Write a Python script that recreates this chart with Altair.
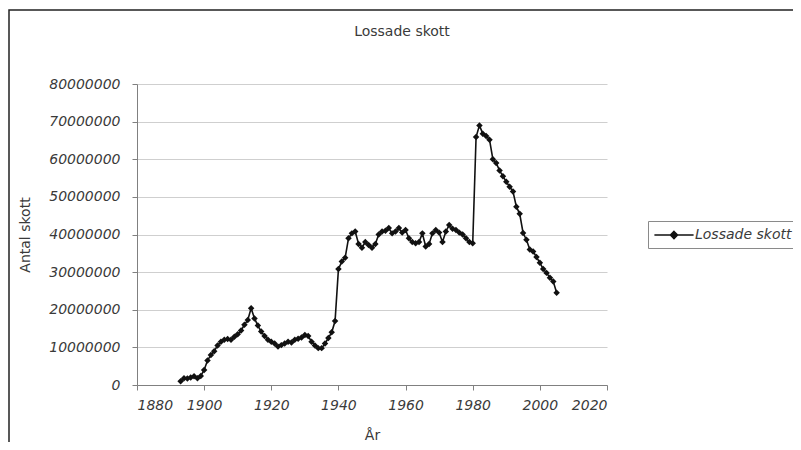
import altair as alt
import pandas as pd

# Years and shot counts
years = list(range(1893, 2006))
shots = [
    1000000, 1800000, 1700000, 2000000, 2300000, 1800000, 2400000, 4000000,
    6500000, 8000000, 9000000, 10500000, 11500000, 12000000, 12200000, 12000000,
    12800000, 13500000, 14500000, 16000000, 17300000, 20400000, 17700000, 15800000,
    14200000, 13000000, 12000000, 11500000, 11000000, 10200000, 10600000, 11000000,
    11500000, 11300000, 12000000, 12300000, 12600000, 13300000, 13000000, 11500000,
    10500000, 9800000, 9800000, 11000000, 12500000, 14000000, 17000000, 30800000,
    32800000, 33800000, 39000000, 40300000, 40800000, 37500000, 36500000, 38000000,
    37200000, 36500000, 37500000, 40000000, 40800000, 41000000, 41700000, 40300000,
    40800000, 41700000, 40500000, 41200000, 39000000, 38000000, 37700000, 38000000,
    40300000, 36800000, 37500000, 40300000, 41200000, 40500000, 38000000, 40800000,
    42500000, 41500000, 41200000, 40500000, 40000000, 39000000, 38000000, 37700000,
    65900000, 69000000, 66800000, 66200000, 65200000, 60000000, 59000000, 57000000,
    55500000, 54000000, 52700000, 51400000, 47400000, 45500000, 40400000, 38600000,
    36000000, 35500000, 34000000, 32500000, 30800000, 29800000, 28500000, 27500000,
    24500000,
]
series_name = "Lossade skott"
y_ticks = [0, 10000000, 20000000, 30000000, 40000000, 50000000, 60000000, 70000000, 80000000]
x_ticks = [1880, 1900, 1920, 1940, 1960, 1980, 2000, 2020]

df = pd.DataFrame({"År": years, "Antal skott": shots, "serie": [series_name] * len(years)})

FONT = "DejaVu Sans"
TXT = "#3a3a3a"

frame = alt.Chart(pd.DataFrame({"a": [0]})).mark_rect(
    fill=None, stroke="#222222", strokeWidth=1.5
).encode(
    x=alt.value(-128), x2=alt.value(720), y=alt.value(-74), y2=alt.value(600)
)

line = alt.Chart(df).mark_line(
    strokeWidth=1.6,
    point=alt.OverlayMarkDef(shape="diamond", filled=True, size=42),
).encode(
    x=alt.X(
        "År:Q",
        scale=alt.Scale(domain=[1880, 2020], nice=False, zero=False),
        axis=alt.Axis(
            values=x_ticks, format="d", grid=False, title="År",
            labelFontStyle="italic", labelPadding=8, titlePadding=16,
        ),
    ),
    y=alt.Y(
        "Antal skott:Q",
        scale=alt.Scale(domain=[0, 80000000], nice=False),
        axis=alt.Axis(
            values=y_ticks, format="d", title="Antal skott",
            labelFontStyle="italic", labelPadding=12, titlePadding=16,
        ),
    ),
    color=alt.Color(
        "serie:N",
        scale=alt.Scale(range=["#111111"]),
        legend=alt.Legend(
            title=None,
            orient="none",
            legendX=511,
            legendY=137,
            padding=6,
            strokeColor="#8a8a8a",
            fillColor="#ffffff",
            symbolType="M-2.8,0L2.8,0M0,-0.5L0.5,0L0,0.5L-0.5,0Z",
            symbolSize=196,
            symbolOffset=12,
            symbolStrokeWidth=1.6,
            symbolStrokeColor="#111111",
            symbolFillColor="#111111",
            labelOffset=13,
            labelFont=FONT,
            labelFontSize=14,
            labelFontStyle="italic",
            labelColor=TXT,
        ),
    ),
)

chart = alt.layer(frame, line).properties(
    width=470,
    height=301,
    title=alt.TitleParams(
        series_name, font=FONT, fontSize=14, fontWeight="normal",
        color=TXT, anchor="middle", frame="group", dx=30,
        baseline="alphabetic", offset=-41,
    ),
    autosize=alt.AutoSizeParams(type="none"),
    padding={"left": 129, "top": 76, "right": 186, "bottom": 57},
    background="#ffffff",
).configure_view(
    stroke=None
).configure_axis(
    labelFont=FONT, labelFontSize=14, labelColor=TXT,
    titleFont=FONT, titleFontSize=14, titleFontWeight="normal", titleColor=TXT,
    domainColor="#808080", tickColor="#808080", tickSize=5,
    gridColor="#cfcfcf", gridWidth=1,
)

chart.save("out.html", embed_options={"renderer": "svg", "actions": False})
